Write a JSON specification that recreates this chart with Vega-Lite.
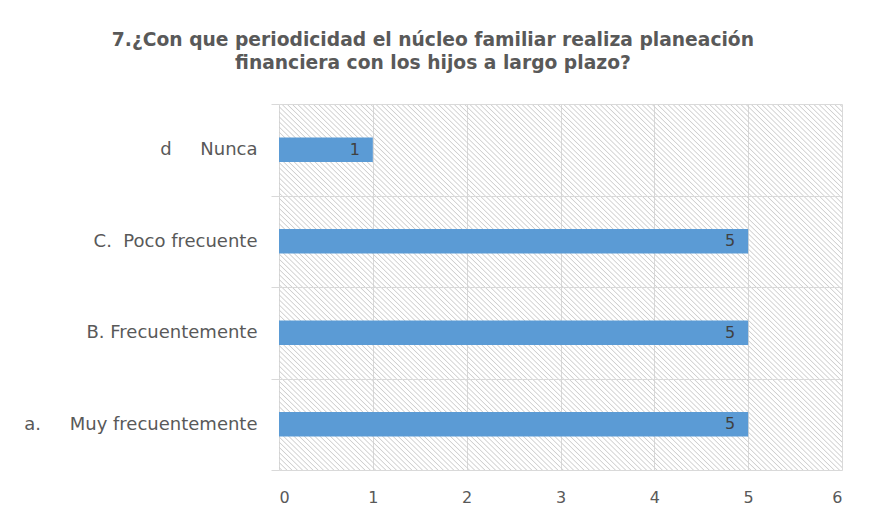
{
  "$schema": "https://vega.github.io/schema/vega-lite/v6.json",
  "width": 563,
  "height": 366,
  "autosize": {"type": "none"},
  "padding": {"left": 279, "top": 104, "right": 32, "bottom": 53},
  "background": "white",
  "title": {
    "text": ["7.¿Con que periodicidad el núcleo familiar realiza planeación", "financiera con los hijos a largo plazo?"],
    "anchor": "middle",
    "frame": "bounds",
    "font": "DejaVu Sans",
    "fontSize": 18.7,
    "fontWeight": "bold",
    "color": "#595959",
    "lineHeight": 23,
    "offset": 22
  },
  "data": {
    "values": [
      {"cat": "d\u00a0\u00a0\u00a0\u00a0\u00a0Nunca\u00a0", "value": 1},
      {"cat": "C.\u00a0\u00a0Poco frecuente", "value": 5},
      {"cat": "B. Frecuentemente", "value": 5},
      {"cat": "a.\u00a0\u00a0\u00a0\u00a0\u00a0Muy frecuentemente", "value": 5}
    ]
  },
  "encoding": {
    "y": {
      "field": "cat",
      "type": "nominal",
      "sort": null,
      "title": null,
      "scale": {"paddingInner": 0, "paddingOuter": 0},
      "axis": {
        "grid": true,
        "gridColor": "#d9d9d9",
        "tickBand": "extent",
        "ticks": true,
        "tickSize": 8,
        "tickColor": "#d9d9d9",
        "domain": false,
        "labelPadding": 14,
        "labelFont": "DejaVu Sans",
        "labelFontSize": 18,
        "labelColor": "#595959",
        "labelLimit": 400
      }
    },
    "x": {
      "field": "value",
      "type": "quantitative",
      "title": null,
      "scale": {"domain": [0, 6], "nice": false},
      "axis": {
        "values": [0, 1, 2, 3, 4, 5, 6],
        "grid": true,
        "gridColor": "#d9d9d9",
        "ticks": false,
        "domain": false,
        "labelPadding": 19,
        "labelFont": "DejaVu Sans",
        "labelFontSize": 16,
        "labelColor": "#595959"
      }
    }
  },
  "layer": [
    {"mark": "rect", "encoding": {"x": {"datum": 0, "title": null}, "x2": {"datum": 1}}},
    {"mark": "rect", "encoding": {"x": {"datum": 1, "title": null}, "x2": {"datum": 2}}},
    {"mark": "rect", "encoding": {"x": {"datum": 2, "title": null}, "x2": {"datum": 3}}},
    {"mark": "rect", "encoding": {"x": {"datum": 3, "title": null}, "x2": {"datum": 4}}},
    {"mark": "rect", "encoding": {"x": {"datum": 4, "title": null}, "x2": {"datum": 5}}},
    {"mark": "rect", "encoding": {"x": {"datum": 5, "title": null}, "x2": {"datum": 6}}},
    {"mark": {"type": "bar", "color": "#5B9BD5", "height": {"band": 0.27}}},
    {
      "mark": {"type": "text", "align": "right", "baseline": "middle", "dx": -13, "font": "DejaVu Sans", "fontSize": 16, "color": "#404040"},
      "encoding": {"text": {"field": "value", "type": "quantitative"}}
    }
  ],
  "config": {
    "view": {"stroke": null},
    "rect": {
      "strokeWidth": 0,
      "fill": {
        "gradient": "linear",
        "x1": 0, "y1": 1, "x2": 1, "y2": 0,
        "stops": [
          {"offset": 0, "color": "rgba(200,200,200,0)"},
          {"offset": 0.008, "color": "rgba(200,200,200,0)"}, {"offset": 0.014, "color": "#cfcfcf"}, {"offset": 0.020, "color": "rgba(200,200,200,0)"},
          {"offset": 0.036, "color": "rgba(200,200,200,0)"}, {"offset": 0.042, "color": "#cfcfcf"}, {"offset": 0.048, "color": "rgba(200,200,200,0)"},
          {"offset": 0.063, "color": "rgba(200,200,200,0)"}, {"offset": 0.069, "color": "#cfcfcf"}, {"offset": 0.075, "color": "rgba(200,200,200,0)"},
          {"offset": 0.091, "color": "rgba(200,200,200,0)"}, {"offset": 0.097, "color": "#cfcfcf"}, {"offset": 0.103, "color": "rgba(200,200,200,0)"},
          {"offset": 0.119, "color": "rgba(200,200,200,0)"}, {"offset": 0.125, "color": "#cfcfcf"}, {"offset": 0.131, "color": "rgba(200,200,200,0)"},
          {"offset": 0.147, "color": "rgba(200,200,200,0)"}, {"offset": 0.153, "color": "#cfcfcf"}, {"offset": 0.159, "color": "rgba(200,200,200,0)"},
          {"offset": 0.175, "color": "rgba(200,200,200,0)"}, {"offset": 0.181, "color": "#cfcfcf"}, {"offset": 0.187, "color": "rgba(200,200,200,0)"},
          {"offset": 0.202, "color": "rgba(200,200,200,0)"}, {"offset": 0.208, "color": "#cfcfcf"}, {"offset": 0.214, "color": "rgba(200,200,200,0)"},
          {"offset": 0.230, "color": "rgba(200,200,200,0)"}, {"offset": 0.236, "color": "#cfcfcf"}, {"offset": 0.242, "color": "rgba(200,200,200,0)"},
          {"offset": 0.258, "color": "rgba(200,200,200,0)"}, {"offset": 0.264, "color": "#cfcfcf"}, {"offset": 0.270, "color": "rgba(200,200,200,0)"},
          {"offset": 0.286, "color": "rgba(200,200,200,0)"}, {"offset": 0.292, "color": "#cfcfcf"}, {"offset": 0.298, "color": "rgba(200,200,200,0)"},
          {"offset": 0.313, "color": "rgba(200,200,200,0)"}, {"offset": 0.319, "color": "#cfcfcf"}, {"offset": 0.325, "color": "rgba(200,200,200,0)"},
          {"offset": 0.341, "color": "rgba(200,200,200,0)"}, {"offset": 0.347, "color": "#cfcfcf"}, {"offset": 0.353, "color": "rgba(200,200,200,0)"},
          {"offset": 0.369, "color": "rgba(200,200,200,0)"}, {"offset": 0.375, "color": "#cfcfcf"}, {"offset": 0.381, "color": "rgba(200,200,200,0)"},
          {"offset": 0.397, "color": "rgba(200,200,200,0)"}, {"offset": 0.403, "color": "#cfcfcf"}, {"offset": 0.409, "color": "rgba(200,200,200,0)"},
          {"offset": 0.425, "color": "rgba(200,200,200,0)"}, {"offset": 0.431, "color": "#cfcfcf"}, {"offset": 0.437, "color": "rgba(200,200,200,0)"},
          {"offset": 0.452, "color": "rgba(200,200,200,0)"}, {"offset": 0.458, "color": "#cfcfcf"}, {"offset": 0.464, "color": "rgba(200,200,200,0)"},
          {"offset": 0.480, "color": "rgba(200,200,200,0)"}, {"offset": 0.486, "color": "#cfcfcf"}, {"offset": 0.492, "color": "rgba(200,200,200,0)"},
          {"offset": 0.508, "color": "rgba(200,200,200,0)"}, {"offset": 0.514, "color": "#cfcfcf"}, {"offset": 0.520, "color": "rgba(200,200,200,0)"},
          {"offset": 0.536, "color": "rgba(200,200,200,0)"}, {"offset": 0.542, "color": "#cfcfcf"}, {"offset": 0.548, "color": "rgba(200,200,200,0)"},
          {"offset": 0.563, "color": "rgba(200,200,200,0)"}, {"offset": 0.569, "color": "#cfcfcf"}, {"offset": 0.575, "color": "rgba(200,200,200,0)"},
          {"offset": 0.591, "color": "rgba(200,200,200,0)"}, {"offset": 0.597, "color": "#cfcfcf"}, {"offset": 0.603, "color": "rgba(200,200,200,0)"},
          {"offset": 0.619, "color": "rgba(200,200,200,0)"}, {"offset": 0.625, "color": "#cfcfcf"}, {"offset": 0.631, "color": "rgba(200,200,200,0)"},
          {"offset": 0.647, "color": "rgba(200,200,200,0)"}, {"offset": 0.653, "color": "#cfcfcf"}, {"offset": 0.659, "color": "rgba(200,200,200,0)"},
          {"offset": 0.675, "color": "rgba(200,200,200,0)"}, {"offset": 0.681, "color": "#cfcfcf"}, {"offset": 0.687, "color": "rgba(200,200,200,0)"},
          {"offset": 0.702, "color": "rgba(200,200,200,0)"}, {"offset": 0.708, "color": "#cfcfcf"}, {"offset": 0.714, "color": "rgba(200,200,200,0)"},
          {"offset": 0.730, "color": "rgba(200,200,200,0)"}, {"offset": 0.736, "color": "#cfcfcf"}, {"offset": 0.742, "color": "rgba(200,200,200,0)"},
          {"offset": 0.758, "color": "rgba(200,200,200,0)"}, {"offset": 0.764, "color": "#cfcfcf"}, {"offset": 0.770, "color": "rgba(200,200,200,0)"},
          {"offset": 0.786, "color": "rgba(200,200,200,0)"}, {"offset": 0.792, "color": "#cfcfcf"}, {"offset": 0.798, "color": "rgba(200,200,200,0)"},
          {"offset": 0.813, "color": "rgba(200,200,200,0)"}, {"offset": 0.819, "color": "#cfcfcf"}, {"offset": 0.825, "color": "rgba(200,200,200,0)"},
          {"offset": 0.841, "color": "rgba(200,200,200,0)"}, {"offset": 0.847, "color": "#cfcfcf"}, {"offset": 0.853, "color": "rgba(200,200,200,0)"},
          {"offset": 0.869, "color": "rgba(200,200,200,0)"}, {"offset": 0.875, "color": "#cfcfcf"}, {"offset": 0.881, "color": "rgba(200,200,200,0)"},
          {"offset": 0.897, "color": "rgba(200,200,200,0)"}, {"offset": 0.903, "color": "#cfcfcf"}, {"offset": 0.909, "color": "rgba(200,200,200,0)"},
          {"offset": 0.925, "color": "rgba(200,200,200,0)"}, {"offset": 0.931, "color": "#cfcfcf"}, {"offset": 0.937, "color": "rgba(200,200,200,0)"},
          {"offset": 0.952, "color": "rgba(200,200,200,0)"}, {"offset": 0.958, "color": "#cfcfcf"}, {"offset": 0.964, "color": "rgba(200,200,200,0)"},
          {"offset": 0.980, "color": "rgba(200,200,200,0)"}, {"offset": 0.986, "color": "#cfcfcf"}, {"offset": 0.992, "color": "rgba(200,200,200,0)"},
          {"offset": 1, "color": "rgba(200,200,200,0)"}
        ]
      }
    }
  }
}
